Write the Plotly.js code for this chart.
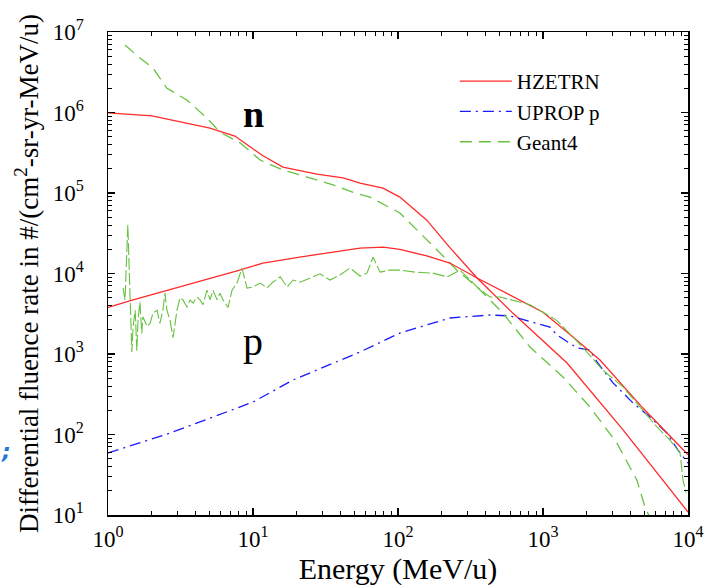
<!DOCTYPE html>
<html>
<head>
<meta charset="utf-8">
<script src="https://cdn.plot.ly/plotly-3.0.1.min.js"></script>
<style>html,body{margin:0;padding:0;background:#fff;}#chart{width:712px;height:588px;}</style>
</head>
<body>
<div id="chart"></div>
<script>
// HZETRN neutrons
var hzN_E = [1, 2.01, 5.05, 7.5, 11.7, 16.1, 27.6, 41.8, 54.7, 78.8, 103, 158, 228, 351, 621, 1465, 3565, 10000];
var hzN_F = [9.9e5, 9.1e5, 6.4e5, 5.1e5, 2.9e5, 2.1e5, 1.72e5, 1.54e5, 1.33e5, 1.15e5, 8.9e4, 4.6e4, 2.1e4, 8.8e3, 3.2e3, 773, 114, 10.9];
// HZETRN protons
var hzP_E = [1, 1.49, 8.1, 11.7, 21, 54.7, 79, 103, 158, 228, 351, 694, 1000, 1610, 2470, 4890, 10000];
var hzP_F = [3.8e3, 4.7e3, 1.1e4, 1.35e4, 1.6e4, 2.07e4, 2.13e4, 2.0e4, 1.65e4, 1.35e4, 8.8e3, 4.7e3, 3.3e3, 1.63e3, 842, 213, 56];
// UPROP protons
var up_E = [1, 2.55, 10, 18.9, 54.7, 103, 228, 431, 592, 1117, 1250, 1715, 2107, 2357, 3040, 4180, 5470, 7160, 8530, 10000];
var up_F = [59, 101, 253, 476, 1060, 1820, 2800, 3050, 2970, 2160, 1720, 1190, 1120, 796, 437, 246, 165, 104, 64, 44];
// Geant4 neutrons
var g4N_E = [1.31, 1.66, 2.04, 2.55, 3.5, 4.82, 5.92, 8.13, 11.2, 16.1, 23.6, 35.6, 50.5, 64, 103, 135, 186, 255, 351, 431, 530, 813, 1374, 2107, 3236, 4446, 5050, 5470];
var g4N_F = [6.9e6, 4.75e6, 3.57e6, 2.0e6, 1.43e6, 8.5e5, 5.7e5, 4.2e5, 2.57e5, 1.93e5, 1.58e5, 1.26e5, 1.0e5, 8.9e4, 5.65e4, 3.5e4, 1.96e4, 1.1e4, 6.8e3, 4.7e3, 3.2e3, 1.22e3, 517, 220, 78, 27, 12.6, 9.2];
// Geant4 protons
var g4P_E = [1.27, 1.31, 1.37, 1.42, 1.46, 1.49, 1.54, 1.58, 1.61, 1.66, 1.71, 1.74, 1.86, 1.95, 2.04, 2.18, 2.28, 2.39, 2.47, 2.55, 2.68, 2.81, 2.99, 3.14, 3.29, 3.51, 3.68, 3.86, 4.11, 4.31, 4.52, 4.82, 5.05, 5.30, 5.65, 5.92, 6.21, 6.73, 7.17, 7.76, 8.40, 9.09, 10, 11.2, 12.5, 13.7, 15.4, 17.2, 18.9, 21.1, 24.7, 29.0, 34.0, 39.8, 46.7, 54.7, 61.1, 67.3, 75.2, 88.1, 103, 131, 174, 218, 268, 351, 431, 505, 813, 1250, 1890, 2590, 3560, 4670, 6110, 7510, 8810, 9240, 9700];
var g4P_F = [6.6e3, 4.7e3, 4.0e4, 4.7e3, 1.06e3, 2.2e3, 3.5e3, 1.1e3, 2.6e3, 4.4e3, 1.8e3, 2.9e3, 2.2e3, 2.4e3, 3.2e3, 3.5e3, 2.4e3, 3.5e3, 5.7e3, 3.5e3, 2.6e3, 1.6e3, 3.5e3, 5.0e3, 4.7e3, 3.8e3, 4.7e3, 4.3e3, 5.1e3, 4.7e3, 4.1e3, 6.2e3, 4.7e3, 6.2e3, 4.7e3, 5.7e3, 4.7e3, 3.8e3, 6.2e3, 7.6e3, 1.17e4, 6.6e3, 6.8e3, 7.6e3, 6.6e3, 7.8e3, 9.1e3, 6.8e3, 8.3e3, 7.8e3, 8.8e3, 9.9e3, 8.3e3, 9.6e3, 1.17e4, 9.3e3, 1.01e4, 1.6e4, 1.04e4, 1.1e4, 1.1e4, 1.04e4, 1.01e4, 9.1e3, 1.1e4, 6.8e3, 5.1e3, 5.1e3, 4.1e3, 2.6e3, 1.2e3, 630, 390, 220, 124, 85, 59, 27, 19];

var legendNames = ["HZETRN", "UPROP p", "Geant4"];
var particleLabels = ["n", "p"];
var xTickVals = [1, 10, 100, 1000, 10000];
var xTickText = ["10<sup>0</sup>", "10<sup>1</sup>", "10<sup>2</sup>", "10<sup>3</sup>", "10<sup>4</sup>"];
var yTickVals = [10, 100, 1000, 1e4, 1e5, 1e6, 1e7];
var yTickText = ["10<sup>1</sup>", "10<sup>2</sup>", "10<sup>3</sup>", "10<sup>4</sup>", "10<sup>5</sup>", "10<sup>6</sup>", "10<sup>7</sup>"];

var RED = "#ff2a2a", BLUE = "#1a1aff", GREEN = "#66c23f";
var serif = '"Liberation Serif", "Times New Roman", Times, serif';

var traces = [
  {x: hzN_E, y: hzN_F, mode: "lines", name: legendNames[0], line: {color: RED, width: 1.3}},
  {x: up_E, y: up_F, mode: "lines", name: legendNames[1], line: {color: BLUE, width: 1.3, dash: "11px,5px,2px,5px"}},
  {x: g4N_E, y: g4N_F, mode: "lines", name: legendNames[2], line: {color: GREEN, width: 1.3, dash: "12px,7px"}},
  {x: hzP_E, y: hzP_F, mode: "lines", name: legendNames[0], line: {color: RED, width: 1.3}, showlegend: false},
  {x: g4P_E, y: g4P_F, mode: "lines", name: legendNames[2], line: {color: GREEN, width: 1.1, dash: "12px,3px"}, showlegend: false}
];

var axisCommon = {
  type: "log",
  showgrid: false,
  zeroline: false,
  showline: true,
  linecolor: "#000",
  linewidth: 1.5,
  mirror: "ticks",
  ticks: "inside",
  ticklen: 7,
  tickwidth: 1.2,
  tickcolor: "#000",
  tickmode: "array",
  tickfont: {family: serif, size: 23, color: "#000"},
  minor: {ticks: "inside", ticklen: 4, tickwidth: 1, tickcolor: "#000", dtick: "D1", showgrid: false}
};

var layout = {
  width: 712, height: 588,
  font: {family: serif, color: "#000"},
  margin: {l: 108, r: 24, t: 32, b: 73},
  paper_bgcolor: "#fff", plot_bgcolor: "#fff",
  showlegend: true,
  legend: {x: 0.598, xanchor: "left", y: 0.94, yanchor: "top", bgcolor: "rgba(0,0,0,0)",
           font: {family: serif, size: 21, color: "#000"}, itemwidth: 52, tracegroupgap: 0},
  xaxis: Object.assign({}, axisCommon, {
    range: [0, 4],
    tickvals: xTickVals, ticktext: xTickText,
    ticklabelstandoff: 3,
    title: {text: "Energy (MeV/u)", font: {family: serif, size: 30, color: "#000"}, standoff: 4}
  }),
  yaxis: Object.assign({}, axisCommon, {
    range: [1, 7],
    tickvals: yTickVals, ticktext: yTickText,
    ticklabelstandoff: 18,
    title: {text: "Differential fluence rate in #/(cm<sup>2</sup>-sr-yr-MeV/u)", font: {family: serif, size: 27, color: "#000"}, standoff: 6}
  }),
  annotations: [
    {x: Math.log10(10), y: Math.log10(5e5), xref: "x", yref: "y", text: "<b>" + particleLabels[0] + "</b>", showarrow: false,
     font: {family: serif, size: 38, color: "#000"}, xanchor: "center", yanchor: "bottom"},
    {x: Math.log10(10), y: Math.log10(700), xref: "x", yref: "y", text: particleLabels[1], showarrow: false,
     font: {family: serif, size: 40, color: "#000"}, xanchor: "center", yanchor: "bottom"},
    {x: -0.176, y: 0.132, xref: "paper", yref: "paper", text: "<b><i>;</i></b>", showarrow: false,
     font: {family: "DejaVu Sans", size: 22, color: "#1e78d2"}, xanchor: "center", yanchor: "middle"}
  ]
};

Plotly.newPlot("chart", traces, layout, {displayModeBar: false, staticPlot: true});
</script>
</body>
</html>
